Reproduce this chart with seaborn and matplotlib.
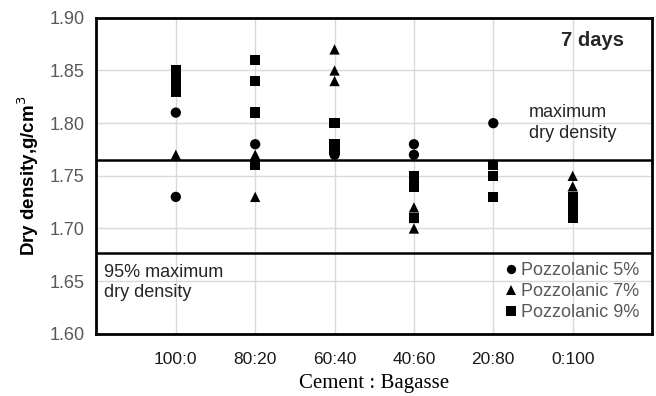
import pandas as pd
import matplotlib.pyplot as plt
import seaborn as sns

# Data
categories = ['100:0', '80:20', '60:40', '40:60', '20:80', '0:100']
p5_cat = ['100:0', '100:0', '80:20', '60:40', '40:60', '40:60', '20:80']
p5_val = [1.81, 1.73, 1.78, 1.77, 1.78, 1.77, 1.80]
p7_cat = ['100:0', '80:20', '80:20', '60:40', '60:40', '60:40',
          '40:60', '40:60', '40:60', '0:100', '0:100']
p7_val = [1.77, 1.77, 1.73, 1.87, 1.85, 1.84, 1.72, 1.71, 1.70, 1.75, 1.74]
p9_cat = ['100:0', '100:0', '100:0', '100:0', '80:20', '80:20', '80:20', '80:20',
          '60:40', '60:40', '60:40', '40:60', '40:60', '40:60', '40:60',
          '20:80', '20:80', '20:80', '0:100', '0:100', '0:100', '0:100']
p9_val = [1.85, 1.845, 1.84, 1.83, 1.86, 1.84, 1.81, 1.76,
          1.80, 1.78, 1.775, 1.75, 1.745, 1.74, 1.71,
          1.76, 1.75, 1.73, 1.73, 1.725, 1.72, 1.71]
max_dd = 1.765
min_dd = 0.95 * max_dd

df = pd.concat([
    pd.DataFrame({'mix': p5_cat, 'density': p5_val, 'series': 'Pozzolanic 5%'}),
    pd.DataFrame({'mix': p7_cat, 'density': p7_val, 'series': 'Pozzolanic 7%'}),
    pd.DataFrame({'mix': p9_cat, 'density': p9_val, 'series': 'Pozzolanic 9%'}),
])
df['mix'] = pd.Categorical(df['mix'], categories=categories, ordered=True)
df['pos'] = df['mix'].cat.codes

sns.set_style('white')
plt.rcParams['font.family'] = ['Liberation Sans', 'DejaVu Sans']

fig, ax = plt.subplots(figsize=(6.56, 3.96), dpi=100)
fig.subplots_adjust(left=0.147, right=0.994, top=0.955, bottom=0.157)

sns.scatterplot(data=df, x='pos', y='density', style='series',
                markers={'Pozzolanic 5%': 'o', 'Pozzolanic 7%': '^', 'Pozzolanic 9%': 's'},
                color='black', s=55, linewidth=0, ax=ax, zorder=3)

ax.axhline(max_dd, color='black', lw=1.8, zorder=2)
ax.axhline(min_dd, color='black', lw=1.8, zorder=2)

ax.set_xlim(-1, 6)
ax.set_ylim(1.60, 1.90)
yticks = [1.60, 1.65, 1.70, 1.75, 1.80, 1.85, 1.90]
ax.set_xticks(range(len(categories)))
ax.set_xticklabels(categories)
ax.set_yticks(yticks)
ax.set_yticklabels([f'{v:.2f}' for v in yticks])
ax.grid(True, color='#d9d9d9', lw=1, zorder=0)
ax.set_axisbelow(True)
ax.tick_params(axis='both', direction='out', length=5, width=1.5, color='black',
               labelsize=13, labelcolor='#595959')
ax.tick_params(axis='x', pad=8, labelsize=12.5, labelcolor='#1a1a1a')
for sp in ax.spines.values():
    sp.set_color('black')
    sp.set_linewidth(2)

ax.set_ylabel('Dry density,g/cm$^3$', fontsize=13.5, fontweight='bold', color='black',
              labelpad=6)
ax.set_xlabel('Cement : Bagasse', fontsize=15, family=['Liberation Serif'], color='black',
              labelpad=5)

ax.text(5.25, 1.878, '7 days', fontsize=14.5, fontweight='bold', ha='center', va='center')
ax.text(4.45, 1.800, 'maximum\ndry density', fontsize=13, ha='left', va='center',
        linespacing=1.3)
ax.text(-0.9, 1.649, '95% maximum\ndry density', fontsize=13, ha='left', va='center',
        linespacing=1.2)

leg = ax.legend(loc='lower right', frameon=False, fontsize=13, handletextpad=0.0,
                borderaxespad=0.3, labelspacing=0.22, handlelength=1.1, markerscale=0.9)
for t in leg.get_texts():
    t.set_color('#595959')

plt.savefig('out.png', dpi=100)
plt.close()
